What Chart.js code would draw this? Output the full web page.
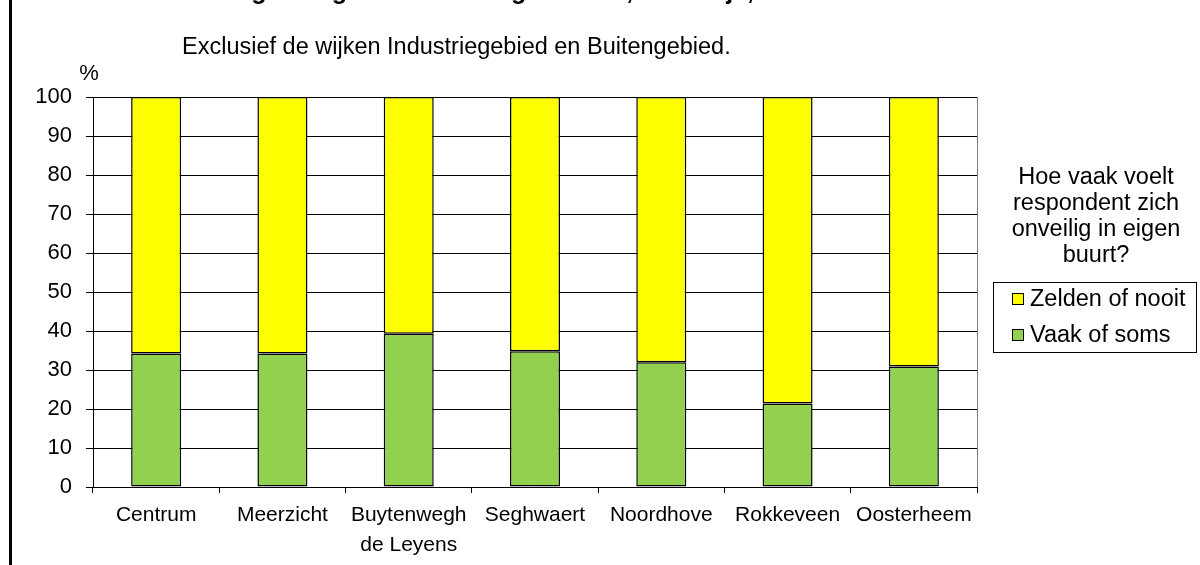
<!DOCTYPE html>
<html>
<head>
<meta charset="utf-8">
<script src="https://cdn.jsdelivr.net/npm/chart.js@4.4.1/dist/chart.umd.min.js"></script>
<style>
  html, body { margin: 0; padding: 0; background: #fff; }
  #wrap { width: 1200px; height: 565px; position: relative; }
</style>
</head>
<body>
<div id="wrap"><canvas id="c" width="1200" height="565"></canvas></div>
<script>
const categories = ['Centrum', 'Meerzicht', ['Buytenwegh', 'de Leyens'], 'Seghwaert', 'Noordhove', 'Rokkeveen', 'Oosterheem'];
const vaakOfSoms = [34.2, 34.2, 39.3, 34.8, 32.0, 21.4, 30.9];
const zeldenOfNooit = [65.8, 65.8, 60.7, 65.2, 68.0, 78.6, 69.1];
const seriesNames = ['Vaak of soms', 'Zelden of nooit'];
const seriesColors = ['#92D050', '#FFFF00'];
const yMin = 0, yMax = 100, yStep = 10;
const titleText = 'Grafiek 5.2 Onveiligheidsgevoelens in eigen buurt, naar wijk, 2011';
const subtitleText = 'Exclusief de wijken Industriegebied en Buitengebied.';
const yUnit = '%';
const legendTitle = ['Hoe vaak voelt', 'respondent zich', 'onveilig in eigen', 'buurt?'];

const FONT = '"Liberation Sans", Arial, sans-serif';

const decor = {
  id: 'decor',
  beforeDraw(chart) {
    const ctx = chart.ctx;
    ctx.save();
    ctx.fillStyle = '#fff';
    ctx.fillRect(0, 0, chart.width, chart.height);
    ctx.restore();
  },
  afterDraw(chart) {
    const ctx = chart.ctx;
    const a = chart.chartArea;
    ctx.save();
    // left frame line
    ctx.fillStyle = '#000';
    ctx.fillRect(9, 0, 3, chart.height);
    // cut-off title
    ctx.font = 'bold 25px ' + FONT;
    ctx.textAlign = 'left';
    ctx.textBaseline = 'alphabetic';
    ctx.fillText(titleText, 33, -1);
    // subtitle
    ctx.font = '23.5px ' + FONT;
    ctx.textAlign = 'left';
    ctx.textBaseline = 'middle';
    ctx.fillStyle = '#000';
    ctx.fillText(subtitleText, 182, 48);
    // unit
    ctx.font = '22px ' + FONT;
    ctx.textAlign = 'center';
    ctx.fillText(yUnit, 89, 74);
    // plot right border
    ctx.strokeStyle = '#808080';
    ctx.lineWidth = 1;
    ctx.beginPath();
    ctx.moveTo(Math.round(a.right) + 0.5, a.top);
    ctx.lineTo(Math.round(a.right) + 0.5, a.bottom);
    ctx.stroke();
    // legend
    ctx.fillStyle = '#000';
    ctx.font = '23.5px ' + FONT;
    ctx.textAlign = 'center';
    ctx.textBaseline = 'middle';
    legendTitle.forEach((t, i) => ctx.fillText(t, 1096, 178 + i * 26));
    ctx.strokeStyle = '#000';
    ctx.strokeRect(993.5, 282.5, 203, 70);
    const ds = chart.data.datasets.slice().reverse();
    ctx.textAlign = 'left';
    ds.forEach((d, i) => {
      const cy = 299 + i * 36;
      ctx.fillStyle = d.backgroundColor;
      ctx.fillRect(1012, cy - 6, 11, 11);
      ctx.strokeStyle = '#000';
      ctx.strokeRect(1012.5, cy - 5.5, 11, 11);
      ctx.fillStyle = '#000';
      ctx.fillText(d.label, 1030, cy + 1);
    });
    ctx.restore();
  }
};

new Chart(document.getElementById('c'), {
  type: 'bar',
  data: {
    labels: categories,
    datasets: [
      { label: seriesNames[0], data: vaakOfSoms, backgroundColor: seriesColors[0], borderColor: '#000', borderWidth: 1.5, borderSkipped: false },
      { label: seriesNames[1], data: zeldenOfNooit, backgroundColor: seriesColors[1], borderColor: '#000', borderWidth: 1.5, borderSkipped: false }
    ]
  },
  options: {
    responsive: false,
    animation: false,
    devicePixelRatio: 1,
    layout: { padding: { left: 10, right: 223, top: 97, bottom: 0 } },
    datasets: { bar: { categoryPercentage: 1, barPercentage: 0.396 } },
    plugins: { legend: { display: false }, tooltip: { enabled: false }, title: { display: false } },
    scales: {
      x: {
        stacked: true,
        grid: { offset: true, drawOnChartArea: false, drawTicks: true, tickLength: 6, color: '#000' },
        border: { color: '#000' },
        ticks: { color: '#000', font: { family: FONT, size: 21, lineHeight: 1.4 }, padding: 8, maxRotation: 0, autoSkip: false },
        afterFit(s) { s.height = 78; }
      },
      y: {
        stacked: true,
        min: yMin, max: yMax,
        grid: { color: '#000', tickLength: 7 },
        border: { color: '#000' },
        ticks: { stepSize: yStep, color: '#000', font: { family: FONT, size: 22 }, padding: 14 },
        afterFit(s) { s.width = 83; }
      }
    }
  },
  plugins: [decor]
});
</script>
</body>
</html>
